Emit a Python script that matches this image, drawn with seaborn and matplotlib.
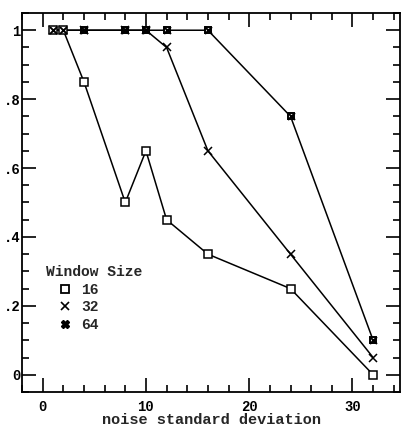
import matplotlib
matplotlib.use("Agg")
import matplotlib.pyplot as plt
import seaborn as sns
import pandas as pd
from matplotlib.lines import Line2D
from matplotlib.ticker import MultipleLocator, FixedLocator

sns.set_theme(style="white")
plt.rcParams['font.family'] = ['Liberation Mono', 'DejaVu Sans Mono']
plt.rcParams['font.weight'] = 'bold'

x16 = [1, 2, 4, 8, 10, 12, 16, 24, 32]
y16 = [1, 1, 0.85, 0.5, 0.65, 0.45, 0.35, 0.25, 0.0]
x32 = [1, 2, 4, 8, 10, 12, 16, 24, 32]
y32 = [1, 1, 1, 1, 1, 0.95, 0.65, 0.35, 0.05]
x64 = [1, 2, 4, 8, 10, 12, 16, 24, 32]
y64 = [1, 1, 1, 1, 1, 1, 1, 0.75, 0.1]
series_names = ["16", "32", "64"]
xticks = [0, 10, 20, 30]
yticks = [0, 0.2, 0.4, 0.6, 0.8, 1.0]
yticklabels = ["0", ".2", ".4", ".6", ".8", "1"]

fig = plt.figure(figsize=(4.01, 4.26), dpi=100)
ax = fig.add_axes([22/401, 34/426, 378/401, 379/426])

d16 = pd.DataFrame({"x": x16, "y": y16})
d32 = pd.DataFrame({"x": x32, "y": y32})
d64 = pd.DataFrame({"x": x64, "y": y64})

lw = 1.1
sns.lineplot(data=d64, x="x", y="y", ax=ax, color="black", lw=lw,
             marker="s", markersize=4.5, markerfacecolor="white",
             markeredgecolor="black", markeredgewidth=1.4)
sns.scatterplot(data=d64, x="x", y="y", ax=ax, color="black", marker="x",
                s=25, linewidth=1.4, zorder=5)
sns.lineplot(data=d32, x="x", y="y", ax=ax, color="black", lw=lw,
             marker="x", markersize=6, markeredgecolor="black",
             markeredgewidth=1.1)
sns.lineplot(data=d16, x="x", y="y", ax=ax, color="black", lw=lw,
             marker="s", markersize=5.5, markerfacecolor="white",
             markeredgecolor="black", markeredgewidth=1.1)

ax.set_xlim(-2, 34.6)
ax.set_ylim(-0.05, 1.05)
ax.xaxis.set_major_locator(FixedLocator(xticks))
ax.xaxis.set_minor_locator(MultipleLocator(2))
ax.yaxis.set_major_locator(FixedLocator(yticks))
ax.set_yticklabels(yticklabels)
ax.yaxis.set_minor_locator(MultipleLocator(0.05))
ax.tick_params(which="both", direction="in", top=True, right=True,
               bottom=True, left=True, colors="black", labelsize=10,
               width=1.2)
ax.tick_params(which="major", length=10)
ax.tick_params(which="minor", length=5)
ax.tick_params(axis="x", pad=6)
ax.tick_params(axis="y", pad=1)
for lab in ax.get_xticklabels() + ax.get_yticklabels():
    lab.set_fontweight("bold")
for s in ax.spines.values():
    s.set_color("black")
    s.set_linewidth(1.3)
ax.set_xlabel("noise standard deviation", fontsize=11, fontweight="bold",
              labelpad=-1)
ax.set_ylabel("")

handles = [
    Line2D([], [], ls="none", marker="s", markersize=5.5, markerfacecolor="white",
           markeredgecolor="black", markeredgewidth=1.3),
    Line2D([], [], ls="none", marker="x", markersize=5.5, markeredgecolor="black",
           markeredgewidth=1.2),
    Line2D([], [], ls="none", marker="X", markersize=5.5, markerfacecolor="black",
           markeredgecolor="black"),
]
leg = ax.legend(handles, series_names, title="Window Size", loc="lower left",
                bbox_to_anchor=(0.045, 0.139), frameon=False, fontsize=10.5,
                handletextpad=-0.2, labelspacing=0.25, borderpad=0,
                handlelength=2.6)
leg.get_title().set_fontweight("bold")
leg.get_title().set_fontsize(10.5)
leg._legend_box.align = "left"
for t in leg.get_texts():
    t.set_fontweight("bold")

fig.savefig("out.png", dpi=100)
